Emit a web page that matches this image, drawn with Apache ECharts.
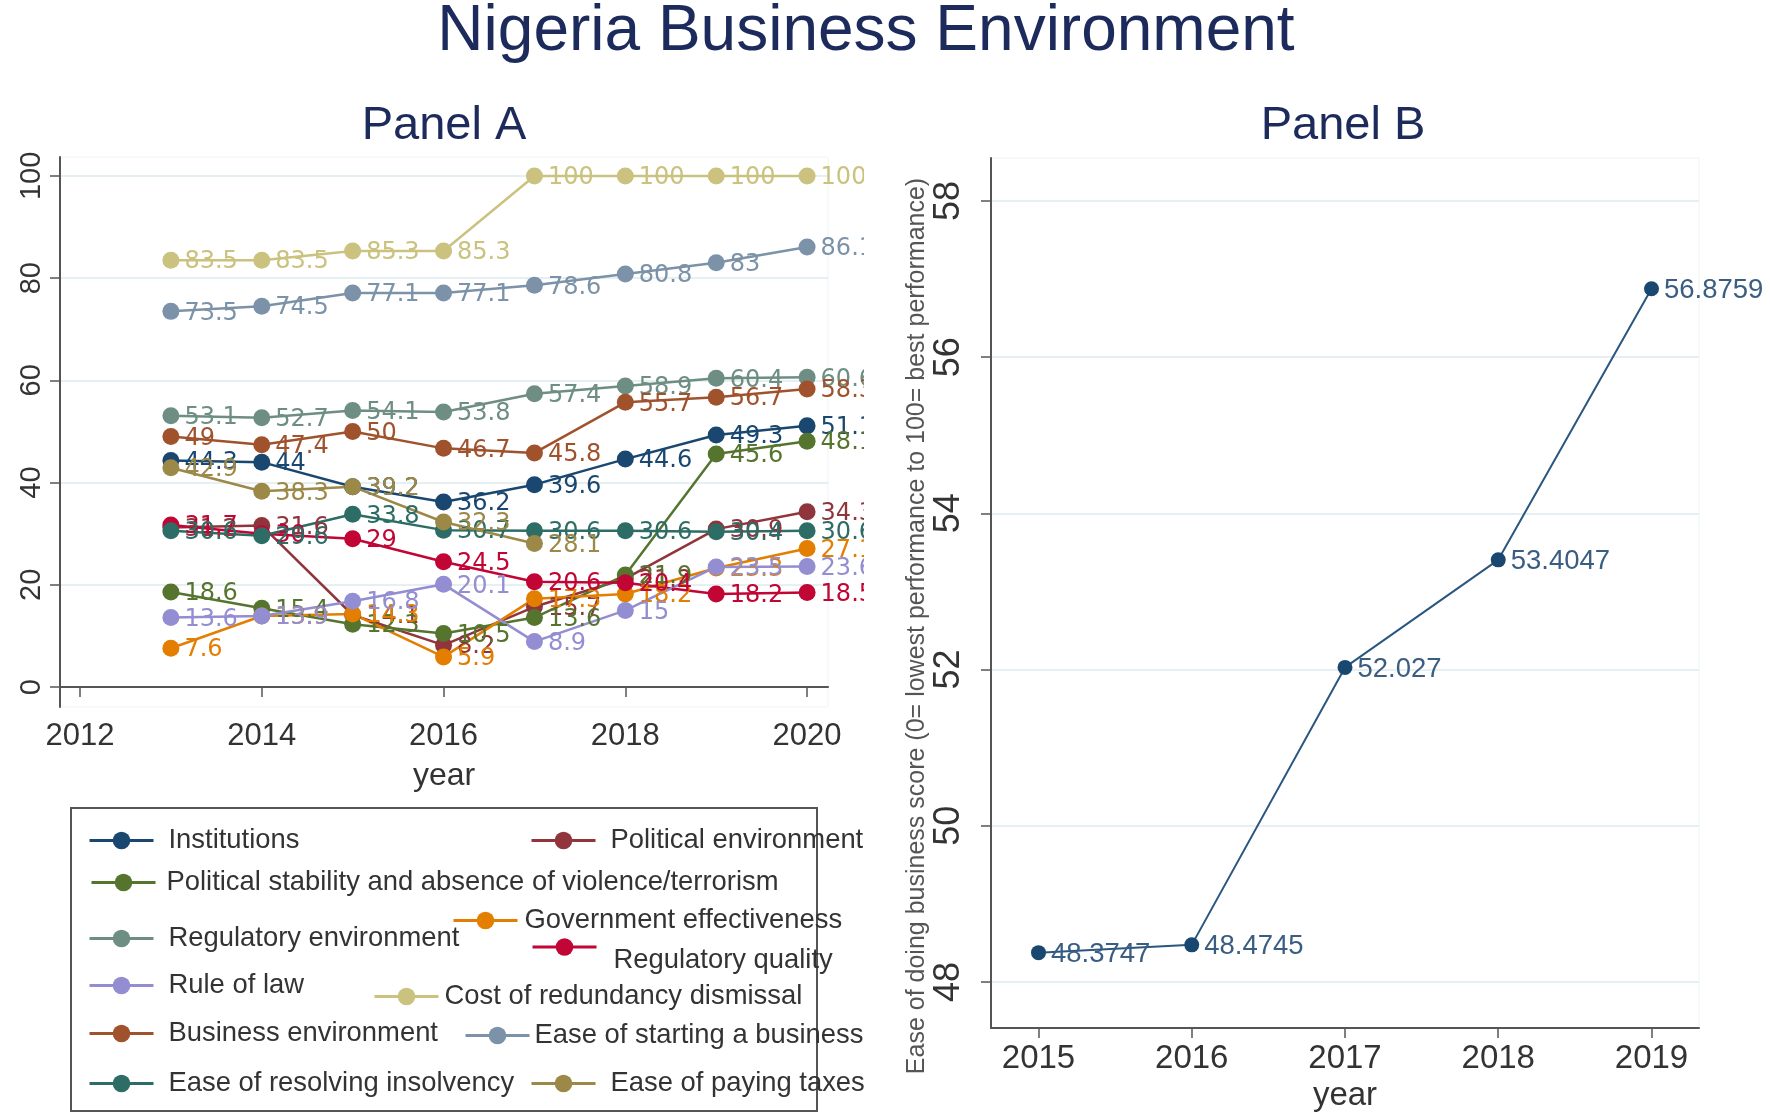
<!DOCTYPE html>
<html><head><meta charset="utf-8">
<script src="https://cdn.jsdelivr.net/npm/echarts@6/dist/echarts.min.js"></script>
<style>
html,body{margin:0;padding:0;background:#fff;width:1770px;height:1119px;overflow:hidden}
#b{position:absolute;left:0;top:0;width:1770px;height:1119px}
#a{position:absolute;left:0;top:0;width:864px;height:1119px}
</style></head><body><div id="b"></div><div id="a"></div>
<script>
// ---------- DATA ----------
const years = [2013, 2014, 2015, 2016, 2017, 2018, 2019, 2020];
const institutions      = [44.3, 44, 39.2, 36.2, 39.6, 44.6, 49.3, 51.1];
const politicalEnv      = [31.2, 31.6, 14.1, 8.2, 15.7, 21.2, 30.9, 34.3];
const politicalStab     = [18.6, 15.4, 12.3, 10.5, 13.6, 21.9, 45.6, 48.1];
const govEffect         = [7.6, 13.9, 14.3, 5.9, 17.3, 18.2, 23.3, 27.1];
const regulatoryEnv     = [53.1, 52.7, 54.1, 53.8, 57.4, 58.9, 60.4, 60.6];
const regulatoryQual    = [31.7, 30.0, 29, 24.5, 20.6, 20.4, 18.2, 18.5];
const ruleOfLaw         = [13.6, 13.9, 16.8, 20.1, 8.9, 15, 23.5, 23.6];
const redundancyCost    = [83.5, 83.5, 85.3, 85.3, 100, 100, 100, 100];
const businessEnv       = [49, 47.4, 50, 46.7, 45.8, 55.7, 56.7, 58.3];
const startingBusiness  = [73.5, 74.5, 77.1, 77.1, 78.6, 80.8, 83, 86.1];
const resolvingInsolv   = [30.6, 29.6, 33.8, 30.7, 30.6, 30.6, 30.4, 30.6];
const payingTaxes       = [42.9, 38.3, 39.2, 32.3, 28.1, null, null, null];

const seriesNames = ['Institutions', 'Political environment',
  'Political stability and absence of violence/terrorism', 'Government effectiveness',
  'Regulatory environment', 'Regulatory quality', 'Rule of law', 'Cost of redundancy dismissal',
  'Business environment', 'Ease of starting a business', 'Ease of resolving insolvency', 'Ease of paying taxes'];
const seriesValues = [institutions, politicalEnv, politicalStab, govEffect, regulatoryEnv, regulatoryQual,
  ruleOfLaw, redundancyCost, businessEnv, startingBusiness, resolvingInsolv, payingTaxes];

const xTicksA = [2012, 2014, 2016, 2018, 2020];
const yTicksA = [0, 20, 40, 60, 80, 100];

const yearsB = [2015, 2016, 2017, 2018, 2019];
const easeDoingBusiness = [48.3747, 48.4745, 52.027, 53.4047, 56.8759];
const yTicksB = [48, 50, 52, 54, 56, 58];

// ---------- STYLE ----------
const colors = ['#1a476f', '#90353b', '#55752f', '#e37e00', '#6e8e84', '#c10534',
  '#938dd2', '#cac27e', '#a0522d', '#7b92a8', '#2d6d66', '#9c8847'];
const FONT = 'Liberation Sans';
const titleColor = '#1c2a5c';
const axisCol = '#555';
const gridCol = '#e6eff2';
const plain = v => String(v);

// legend layout: [left, rowCenterY, textPadLeft, multiline]
const legendPos = [
  [88, 838, 10, false], [530, 838, 10, false], [90, 880, 6, false], [452, 918, 2, false],
  [88, 936, 10, false], [531, 951, 12, true], [88, 983, 10, false], [373, 994, 1, false],
  [88, 1031, 10, false], [464, 1033, 0, false], [88, 1081, 10, false], [530, 1081, 10, false]
];

// ---------- CHART B (full page, title + Panel B) ----------
const chartB = echarts.init(document.getElementById('b'), null, {renderer: 'canvas'});
chartB.setOption({
  backgroundColor: '#fff',
  animation: false,
  graphic: [
    {type: 'text', x: 866, y: 32, style: {text: 'Nigeria Business Environment', fill: titleColor,
      font: '64px "' + FONT + '"', align: 'center', verticalAlign: 'middle'}},
    {type: 'text', x: 1343, y: 126, style: {text: 'Panel B', fill: titleColor,
      font: '47px "' + FONT + '"', align: 'center', verticalAlign: 'middle'}}
  ],
  grid: {left: 991, right: 71, top: 158, bottom: 91, show: true, borderColor: '#eef4f6', borderWidth: 1, outerBoundsMode: 'none'},
  xAxis: {
    type: 'value', min: 2014.69, max: 2019.31,
    name: 'year', nameLocation: 'middle', nameGap: 50,
    nameTextStyle: {fontFamily: FONT, fontSize: 33, color: '#333'},
    axisLine: {show: true, lineStyle: {color: axisCol, width: 2}},
    axisTick: {show: true, length: 10, lineStyle: {color: axisCol, width: 1.5}, customValues: yearsB},
    axisLabel: {fontFamily: FONT, fontSize: 33, color: '#333', margin: 14, customValues: yearsB, formatter: plain},
    splitLine: {show: false}
  },
  yAxis: {
    type: 'value', min: 47.41, max: 58.55,
    name: 'Ease of doing business score (0= lowest performance to 100= best performance)',
    nameLocation: 'middle', nameGap: 61, nameRotate: 90,
    nameTextStyle: {fontFamily: FONT, fontSize: 25, color: '#555', padding: [0, 66, 0, 0]},
    axisLine: {show: true, lineStyle: {color: axisCol, width: 2}},
    axisTick: {show: true, length: 10, lineStyle: {color: axisCol, width: 1.5}, customValues: yTicksB},
    axisLabel: {fontFamily: FONT, fontSize: 36, color: '#333', margin: 24, rotate: 90, customValues: yTicksB, formatter: plain},
    splitLine: {show: true, lineStyle: {color: gridCol, width: 2}}
  },
  series: [{
    type: 'line', name: 'Ease of doing business',
    data: yearsB.map((y, i) => [y, easeDoingBusiness[i]]),
    symbol: 'circle', symbolSize: 15,
    itemStyle: {color: '#1a476f'},
    lineStyle: {color: '#2a5680', width: 2},
    label: {show: true, position: 'right', distance: 5, fontFamily: FONT, fontSize: 27.5, color: '#3a5d82',
      offset: [0, 2], formatter: p => String(p.value[1])}
  }]
});

// ---------- CHART A (left part, clipped) ----------
const chartA = echarts.init(document.getElementById('a'), null, {renderer: 'canvas'});
const seriesA = seriesNames.map((name, k) => ({
  type: 'line', name: name,
  data: years.map((y, i) => [y, seriesValues[k][i]]),
  symbol: 'circle', symbolSize: 17, connectNulls: false,
  itemStyle: {color: colors[k]},
  lineStyle: {color: colors[k], width: 2.5},
  label: {show: true, position: 'right', distance: 5, fontFamily: 'DejaVu Sans', fontSize: 24, color: colors[k],
    offset: [0, 2], formatter: p => (p.value[1] == null ? '' : String(p.value[1]))}
}));
const legendsA = seriesNames.map((name, k) => {
  const [l, cy, pad, multi] = legendPos[k];
  return {
    data: [name], left: l, top: multi ? cy - 11 - 20 : cy - 11, padding: 0, orient: 'horizontal',
    itemWidth: 64, itemHeight: 22, selectedMode: false,
    lineStyle: {width: 3},
    formatter: multi ? (n => '\n' + n) : (n => n),
    textStyle: {fontFamily: FONT, fontSize: 27.4, color: '#333', lineHeight: 27, padding: [0, 0, 0, pad]}
  };
});
chartA.setOption({
  backgroundColor: 'transparent',
  animation: false,
  graphic: [
    {type: 'text', x: 444, y: 126, style: {text: 'Panel A', fill: titleColor,
      font: '47px "' + FONT + '"', align: 'center', verticalAlign: 'middle'}},
    {type: 'rect', shape: {x: 71, y: 808, width: 746, height: 303},
      style: {fill: 'none', stroke: '#555', lineWidth: 2}, z: -1}
  ],
  legend: legendsA,
  grid: {left: 60, right: 36, top: 157, bottom: 412, show: true, borderColor: '#eef4f6', borderWidth: 1, outerBoundsMode: 'none'},
  xAxis: {
    type: 'value', min: 2011.78, max: 2020.23,
    name: 'year', nameLocation: 'middle', nameGap: 53,
    nameTextStyle: {fontFamily: FONT, fontSize: 32, color: '#333'},
    axisLine: {show: true, lineStyle: {color: axisCol, width: 2}},
    axisTick: {show: true, length: 10, lineStyle: {color: axisCol, width: 1.5}, customValues: xTicksA},
    axisLabel: {fontFamily: FONT, fontSize: 31, color: '#333', margin: 14, customValues: xTicksA, formatter: plain},
    splitLine: {show: false}
  },
  yAxis: {
    type: 'value', min: -3.9, max: 103.7,
    axisLine: {show: true, lineStyle: {color: axisCol, width: 2}},
    axisTick: {show: true, length: 10, lineStyle: {color: axisCol, width: 1.5}, customValues: yTicksA},
    axisLabel: {fontFamily: FONT, fontSize: 29, color: '#333', margin: 14, rotate: 90, customValues: yTicksA, formatter: plain},
    splitLine: {show: true, lineStyle: {color: gridCol, width: 2}}
  },
  series: seriesA
});
</script></body></html>
